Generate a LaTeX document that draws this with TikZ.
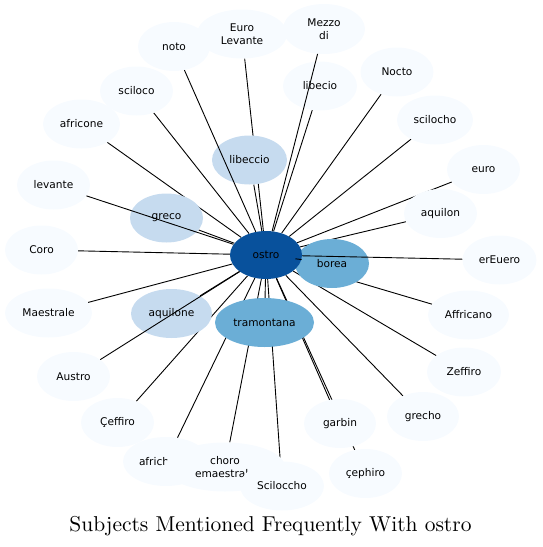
\documentclass[tikz,border=0pt]{standalone}
\usepackage{fontspec}
\newfontfamily\labelfont{DejaVu Sans}
\newfontfamily\titlefont{lmroman10-regular.otf}
\usetikzlibrary{shapes.geometric}
\pgfdeclarelayer{bg}
\pgfdeclarelayer{fg}
\pgfsetlayers{bg,main,fg}
\definecolor{bz}{HTML}{F7FBFF}
\definecolor{bl}{HTML}{C6DBEF}
\definecolor{bm}{HTML}{6BAED6}
\definecolor{bd}{HTML}{08519C}
\begin{document}
\begin{tikzpicture}[x=1pt,y=-1pt,
  nd/.style={ellipse, inner sep=0pt, minimum height=49pt, minimum width=73pt,
    fill=bz, text=black, font=\labelfont\fontsize{10.6}{12.6}\selectfont, align=center},
  lite/.style={fill=bl},
  mid/.style={fill=bm},
  ed/.style={draw=black, line width=0.9pt}]
\useasboundingbox (0,0) rectangle (542,547);
% peripheral nodes
\node[nd, minimum width=72pt] (noto) at (174,46.5) {noto};
\node[nd, minimum width=90pt] (EL) at (242,34) {Euro\\Levante};
\node[nd, minimum width=82pt, minimum height=50pt] (Mezzo) at (324,29) {Mezzo\\di};
\node[nd, minimum width=74pt] (libecio) at (320,86) {libecio};
\node[nd] (Nocto) at (397,72) {Nocto};
\node[nd] (sciloco) at (136.5,91) {sciloco};
\node[nd, minimum width=76pt] (scilocho) at (435,120) {scilocho};
\node[nd, minimum width=77pt] (africone) at (81.5,124) {africone};
\node[nd, lite, minimum width=75pt] (libeccio) at (249.5,160) {libeccio};
\node[nd] (euro) at (483.5,169.5) {euro};
\node[nd] (levante) at (53.5,185) {levante};
\node[nd, lite] (greco) at (166.5,218) {greco};
\node[nd] (aquilon) at (440.5,213.5) {aquilon};
\node[nd] (Coro) at (41.5,250) {Coro};
\node[nd, mid, minimum width=74pt] (borea) at (332,263.5) {borea};
\node[nd, minimum width=74pt] (erEuero) at (499.5,260) {erEuero};
\node[nd, minimum width=87pt] (Maestrale) at (48.5,313) {Maestrale};
\node[nd, lite, minimum width=81pt] (aquilone) at (171.5,313.5) {aquilone};
\node[nd, mid, minimum width=99pt] (tramontana) at (264.5,322.5) {tramontana};
\node[nd, minimum width=81pt] (Affricano) at (468.5,315) {Affricano};
\node[nd] (Austro) at (73.5,376.5) {Austro};
\node[nd, minimum width=74pt] (Zeffiro) at (464,372) {Zeffiro};
\node[nd] (Ceffiro) at (117.5,422.5) {Çeffiro};
\node[nd, minimum width=72pt] (garbin) at (340,423.5) {garbin};
\node[nd, minimum width=72pt] (grecho) at (423,416.5) {grecho};
\node[nd, minimum width=86pt] (africh) at (166,461.5) {\makebox[54pt][l]{africh}};
\node[nd, minimum width=120pt] (choro) at (225,467) {choro\\\makebox[59.9pt][l]{emaestral}};
\node[nd, minimum width=84pt] (Sciloccho) at (282,486) {Sciloccho};
\node[nd] (cephiro) at (365.5,473.5) {çephiro};
% centre
\node[nd, fill=bd, minimum width=72pt, minimum height=48pt] (ostro) at (266,255) {ostro};
% edges below the nodes
\begin{pgfonlayer}{bg}
\foreach \n in {EL,libecio,Nocto,sciloco,scilocho,africone,libeccio,euro,greco,aquilon,Coro,Maestrale,aquilone,tramontana,Affricano,Ceffiro,grecho,Zeffiro,garbin,cephiro,africh,choro,Sciloccho}
  \draw[ed] (ostro) -- (\n);
\end{pgfonlayer}
% edges above the nodes
\begin{pgfonlayer}{fg}
\foreach \n in {noto,Mezzo,levante,borea,erEuero,Austro}
  \draw[ed] (ostro) -- (\n);
\end{pgfonlayer}
% title
\node[anchor=base, inner sep=0pt, font=\titlefont\fontsize{21.5}{25}\selectfont] (title) at (270.5,531) {Subjects Mentioned Frequently With ostro};
\end{tikzpicture}
\end{document}
